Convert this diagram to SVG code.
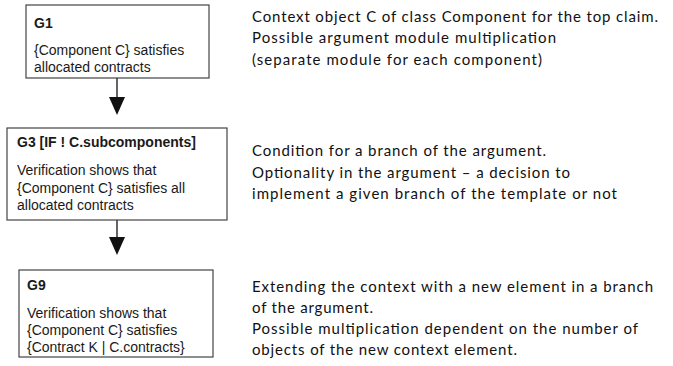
<svg xmlns="http://www.w3.org/2000/svg" width="673" height="366" viewBox="0 0 673 366">
<style>
.box{fill:#fff;stroke:#444;stroke-width:1.2}
.t{font-family:"Liberation Sans",Arial,sans-serif;font-size:14px;fill:#1a1a1a}
.b{font-weight:bold}
.n{font-family:Lato,"Open Sans",sans-serif;font-size:15px;fill:#111}
.c{stroke:#111;stroke-width:1.3;fill:none}
.ah{fill:#111}
</style>
<rect width="673" height="366" fill="#fff"/>
<g id="connectors">
<line class="c" x1="117" y1="78" x2="117" y2="98"/>
<polygon class="ah" points="109,97 125,97 117,115"/>
<line class="c" x1="117" y1="220" x2="117" y2="238"/>
<polygon class="ah" points="109,237 125,237 117,255"/>
</g>
<g id="G1">
<rect class="box" x="26" y="5" width="183" height="73"/>
<text class="t b" x="34" y="28">G1</text>
<text class="t" x="34" y="55">{Component C} satisfies</text>
<text class="t" x="34" y="72">allocated contracts</text>
</g>
<g id="G3">
<rect class="box" x="7" y="128" width="220" height="92"/>
<text class="t b" x="17" y="147">G3 [IF ! C.subcomponents]</text>
<text class="t" x="17" y="175">Verification shows that</text>
<text class="t" x="17" y="192.5">{Component C} satisfies all</text>
<text class="t" x="17" y="210">allocated contracts</text>
</g>
<g id="G9">
<rect class="box" x="19" y="270" width="194" height="87"/>
<text class="t b" x="27" y="290">G9</text>
<text class="t" x="27" y="318">Verification shows that</text>
<text class="t" x="27" y="335">{Component C} satisfies</text>
<text class="t" x="27" y="351.5">{Contract K | C.contracts}</text>
</g>
<g id="notes">
<text class="n" x="252" y="21.5" textLength="406">Context object C of class Component for the top claim.</text>
<text class="n" x="252" y="43" textLength="304">Possible argument module multiplication</text>
<text class="n" x="252" y="65" textLength="290">(separate module for each component)</text>
<text class="n" x="252" y="156" textLength="294">Condition for a branch of the argument.</text>
<text class="n" x="252" y="177.5" textLength="318">Optionality in the argument – a decision to</text>
<text class="n" x="252" y="199" textLength="365">implement a given branch of the template or not</text>
<text class="n" x="252" y="291.5" textLength="401">Extending the context with a new element in a branch</text>
<text class="n" x="252" y="312.5" textLength="121">of the argument.</text>
<text class="n" x="252" y="333.5" textLength="386">Possible multiplication dependent on the number of</text>
<text class="n" x="252" y="355" textLength="265">objects of the new context element.</text>
</g>
</svg>
